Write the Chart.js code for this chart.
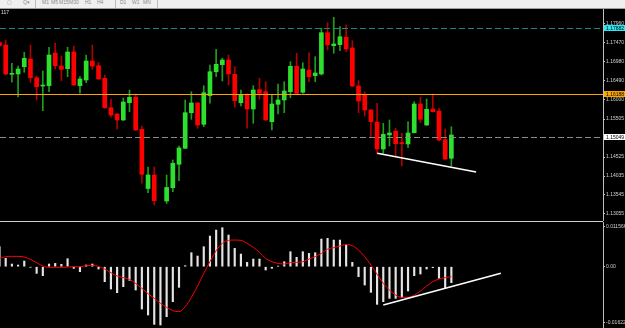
<!DOCTYPE html>
<html><head><meta charset="utf-8">
<script src="https://cdn.jsdelivr.net/npm/chart.js@4/dist/chart.umd.min.js"></script>
<style>
html,body{margin:0;padding:0;background:#000;width:625px;height:328px;overflow:hidden;font-family:'Liberation Sans',Arial,sans-serif}
#top{position:absolute;left:0;top:0}
#bot{position:absolute;left:0;top:222px}
#sep{position:absolute;left:0;top:221px;width:603px;height:1px;background:#d0d0d0}
#toolbar{position:absolute;left:0;top:0;width:625px;height:8px;background:#efefef;border-bottom:1px solid #a0a0a0;overflow:hidden}
#toolbar span{position:absolute;top:-1px;font-size:5px;color:#8a8a8a}
#toolbar i{position:absolute;top:0;width:1px;height:8px;background:#bcbcbc}
#sym{position:absolute;left:1px;top:9px;font-size:5px;color:#e0e0e0}
</style></head>
<body>
<canvas id="top" width="625" height="221"></canvas>
<canvas id="bot" width="625" height="106"></canvas>
<div id="sep"></div>
<div id="toolbar">
<span style="left:7px">▢</span><span style="left:23px">Q▾</span><i style="left:35px"></i>
<span style="left:42px">M1</span><span style="left:51px">M5</span><span style="left:59px">M15</span><span style="left:69px">M30</span>
<span style="left:85px">H1</span><span style="left:97px">H4</span><i style="left:115px"></i>
<span style="left:120px">D1</span><span style="left:132px">W1</span><span style="left:143px">MN</span><i style="left:157px"></i>
</div>
<div id="sym">117</div>
<script>
// ---- DATA (bar -1 is the partly visible candle at the left edge) ----
const opens = [1.17475,1.17415,1.16659,1.16667,1.16855,1.17054,1.16571,1.16357,1.16365,1.17209,1.16873,1.16804,1.17234,1.16365,1.16512,1.17002,1.16881,1.16556,1.15797,1.15635,1.15480,1.15926,1.16066,1.15240,1.13713,1.14061,null,1.13390,1.13733,1.14337,1.14750,1.15668,1.15919,1.15369,1.16107,1.16726,1.16907,1.17028,1.16659,1.15926,1.16143,1.15764,1.16262,1.16210,1.15436,1.15885,1.15996,1.16210,1.16866,1.16195,1.16770,1.16623,1.16667,1.17732,1.17397,1.17423,1.17614,1.17338,1.16357,1.16125,1.15738,1.15428,1.14732,1.15093,1.15189,1.14887,1.14861,1.15152,1.15893,1.15351,1.15764,1.15712,1.14972,1.14492];
const highs = [1.17518,1.17544,1.16943,1.16873,1.17227,1.17415,1.16615,1.16744,1.17356,1.17467,1.17131,1.17356,1.17389,1.16597,1.17157,1.17415,1.16969,1.16641,1.16022,1.15648,1.16048,1.16254,1.16151,1.15325,1.14267,1.14267,null,1.14061,1.14448,1.14809,1.15996,1.16210,1.15931,1.16365,1.16899,1.17304,1.17072,1.17157,1.16855,1.16254,1.16156,1.16365,1.16556,1.16468,1.16125,1.16409,1.16468,1.16984,1.17201,1.16958,1.17216,1.17113,1.17846,1.17990,1.18130,1.17887,1.17931,1.17526,1.16494,1.16210,1.15751,1.15911,1.15395,1.15480,1.15266,1.15137,1.15436,1.15952,1.16066,1.16022,1.16151,1.15782,1.15248,1.15307];
const lows = [1.17364,1.16641,1.16453,1.16073,1.16711,1.16453,1.15996,1.15720,1.16210,1.16796,1.16494,1.16597,1.16370,1.16169,1.16442,1.16788,1.16525,1.15777,1.15550,1.15248,1.15467,1.15694,1.15209,1.13847,1.13604,1.13287,null,1.13326,1.13630,1.13914,1.14745,1.15498,1.15266,1.15307,1.15911,1.16597,1.16486,1.16383,1.15808,1.15841,1.15266,1.15395,1.16014,1.15467,1.15222,1.15635,1.15668,1.16055,1.16164,1.16169,1.16468,1.16468,1.16641,1.17286,1.17201,1.17268,1.17242,1.16339,1.15668,1.15583,1.15049,1.14603,1.14621,1.14809,1.14551,1.14293,1.14765,1.15145,1.15410,1.15338,1.15686,1.14938,1.14448,1.14293];
const closes = [1.17397,1.16667,1.16675,1.16796,1.17072,1.16571,1.16339,1.16375,1.17157,1.16881,1.16788,1.17234,1.16383,1.16538,1.17002,1.16873,1.16538,1.15797,1.15609,1.15480,1.15944,1.16066,1.15222,1.14079,1.14061,1.13398,null,1.13739,1.14363,1.14758,1.15668,1.15919,1.15351,1.16184,1.16726,1.16917,1.17028,1.16667,1.15978,1.16143,1.15764,1.16254,1.16169,1.15480,1.15893,1.15996,1.16228,1.16866,1.16169,1.16796,1.16597,1.16693,1.17732,1.17423,1.17441,1.17629,1.17312,1.16357,1.15970,1.15738,1.15436,1.14732,1.15111,1.15145,1.14869,1.14869,1.15145,1.15893,1.15498,1.15756,1.15694,1.14964,1.14474,1.15093];
const macdHist = [0.00578,0.00241,0.00077,0.00048,0.00164,-0.00019,-0.00193,-0.0026,0.00077,0.00096,0.00067,0.00231,-0.00048,-0.00144,0.00048,0.00077,-0.00067,-0.00433,-0.00645,-0.00751,-0.00578,-0.00395,-0.00674,-0.01223,-0.01396,-0.01666,-0.01685,-0.01445,-0.01011,-0.00597,0.00029,0.00404,0.00308,0.00578,0.00886,0.01059,0.01127,0.00915,0.0053,0.00366,0.00125,0.00221,0.00221,-0.00096,-0.00048,0.00019,0.00144,0.00433,0.0027,0.00433,0.00385,0.00404,0.00799,0.00819,0.0077,0.0077,0.00626,0.00125,-0.00289,-0.0053,-0.00742,-0.01088,-0.01011,-0.00915,-0.00915,-0.00886,-0.00703,-0.0026,-0.00212,-0.00067,-0.00029,-0.00337,-0.00626,-0.00462];
const macdSignal = [0.00241,0.00289,0.00299,0.00299,0.00279,0.00212,0.00116,0.00019,-0.00019,-0.00019,-0.00019,-0.0001,0,0,0.00029,0.00039,0.0001,-0.00067,-0.00173,-0.0027,-0.00318,-0.00366,-0.00482,-0.00626,-0.0078,-0.00915,-0.01059,-0.01175,-0.01271,-0.013,-0.01156,-0.00886,-0.00559,-0.00193,0.00144,0.00462,0.00674,0.00761,0.0077,0.00761,0.00674,0.00559,0.00414,0.00241,0.00144,0.00096,0.00077,0.0012,0.00125,0.00144,0.00221,0.00289,0.00385,0.0051,0.00549,0.00597,0.00645,0.00607,0.00482,0.00289,0.00048,-0.00221,-0.00482,-0.00674,-0.00819,-0.00886,-0.00886,-0.00819,-0.00703,-0.00559,-0.00433,-0.00356,-0.00318,-0.00289];
const priceTicks = [1.17960,1.17470,1.16980,1.16490,1.16000,1.15505,1.14525,1.14035,1.13545,1.13055];
const priceTickLabels = ['1.17960','1.17470','1.16980','1.16490','1.16000','1.15505','1.14525','1.14035','1.13545','1.13055'];
const macdTicks = [0.011566,0,-0.01622];
const macdTickLabels = ['0.011566','0.00','-0.01622'];
const levelValues = [1.17854,1.16151,1.15049];
const levelLabels = ['1.17882','1.16188','1.15049'];
const priceTrendX = [60.03,76.0];
const priceTrendY = [1.14621,1.14138];
const macdTrendX = [61.0,80.0];
const macdTrendY = [-0.01107,-0.00191];
// --------------------------------------------------------------

const firstBar = -1;
const barX = opens.map((_, i) => i + firstBar);
const X_MIN = -0.919, X_MAX = 96.496;
Chart.defaults.font.family = "'Liberation Sans', Arial, sans-serif";

const candles = barX.map((x, i) => ({x, o: opens[i], h: highs[i], l: lows[i], c: closes[i]})).filter(d => d.o !== null);
const UP = '#2ee02e', DOWN = '#ff0000', UPW = '#1e9e1e', DOWNW = '#b00000';

function axisFit(scale){ scale.width = 22; scale.paddingTop = 0; scale.paddingBottom = 0; }
function yAxis(min, max, ticks, labels){
  return {
    position: 'right', min, max,
    afterBuildTicks: s => { s.ticks = ticks.map(v => ({value: v})); },
    afterFit: axisFit,
    ticks: { autoSkip: false, color: '#d0d0d0', font: {size: 5}, padding: 1,
      callback: v => { const k = ticks.findIndex(t => Math.abs(t - v) < 1e-9); return k >= 0 ? labels[k] : ''; } },
    grid: { drawOnChartArea: false, drawTicks: true, tickLength: 2, color: '#bfbfbf' },
    border: { display: true, color: '#bfbfbf', width: 1 }
  };
}
const xAxis = { type: 'linear', min: X_MIN, max: X_MAX, display: false, offset: false };

const levelColors = ['#1f8585', '#ffa500', '#8c8c8c'];
const levelDash = [[6,3], [], [6,3]];
const levelBox = ['#2ae8f2', '#ffa500', '#ffffff'];
const levelPlugin = {
  id: 'levels',
  afterDatasetsDraw(chart){
    const {ctx, chartArea: a, scales: {y}} = chart;
    levelValues.forEach((v, k) => {
      const py = Math.round(y.getPixelForValue(v)) + 0.5;
      ctx.save(); ctx.strokeStyle = levelColors[k]; ctx.lineWidth = 1; ctx.setLineDash(levelDash[k]);
      ctx.beginPath(); ctx.moveTo(a.left, py); ctx.lineTo(a.right, py); ctx.stroke(); ctx.restore();
    });
  },
  afterDraw(chart){
    const {ctx, chartArea: a, scales: {y}} = chart;
    levelValues.forEach((v, k) => {
      const py = Math.round(y.getPixelForValue(v));
      ctx.save(); ctx.fillStyle = levelBox[k]; ctx.fillRect(a.right + 1, py - 3, 21, 6);
      ctx.fillStyle = '#000'; ctx.font = "5px 'Liberation Sans'"; ctx.textBaseline = 'middle';
      ctx.fillText(levelLabels[k], a.right + 3, py + 0.5); ctx.restore();
    });
  }
};

new Chart(document.getElementById('top'), {
  type: 'bar',
  data: { datasets: [
    { type: 'line', data: priceTrendX.map((x, i) => ({x, y: priceTrendY[i]})), borderColor: '#ffffff', borderWidth: 1.5, pointRadius: 0, order: 0 },
    { data: candles.map(d => ({x: d.x, y: [d.o, d.c]})), backgroundColor: candles.map(d => d.c >= d.o ? UP : DOWN),
      barThickness: 4, minBarLength: 1, grouped: false, order: 1 },
    { data: candles.map(d => ({x: d.x, y: [d.l, d.h]})), backgroundColor: candles.map(d => d.c >= d.o ? UPW : DOWNW),
      barThickness: 1, grouped: false, order: 2 }
  ]},
  options: {
    responsive: false, animation: false, events: [],
    layout: { padding: 0 },
    plugins: { legend: {display: false}, tooltip: {enabled: false} },
    scales: { x: xAxis, y: yAxis(1.12874, 1.18576, priceTicks, priceTickLabels) }
  },
  plugins: [levelPlugin]
});

new Chart(document.getElementById('bot'), {
  type: 'bar',
  data: { datasets: [
    { type: 'line', data: macdTrendX.map((x, i) => ({x, y: macdTrendY[i]})), borderColor: '#ffffff', borderWidth: 1.5, pointRadius: 0, order: 0 },
    { type: 'line', data: barX.map((x, i) => ({x, y: macdSignal[i]})), borderColor: '#ff0000', borderWidth: 1, pointRadius: 0, tension: 0.4, cubicInterpolationMode: 'monotone', order: 1 },
    { data: barX.map((x, i) => ({x, y: macdHist[i]})), backgroundColor: '#e4e4e4', barThickness: 1.5, grouped: false, order: 2 }
  ]},
  options: {
    responsive: false, animation: false, events: [],
    layout: { padding: 0 },
    plugins: { legend: {display: false}, tooltip: {enabled: false} },
    scales: { x: xAxis, y: yAxis(-0.017716, 0.012918, macdTicks, macdTickLabels) }
  }
});
</script>
</body></html>
